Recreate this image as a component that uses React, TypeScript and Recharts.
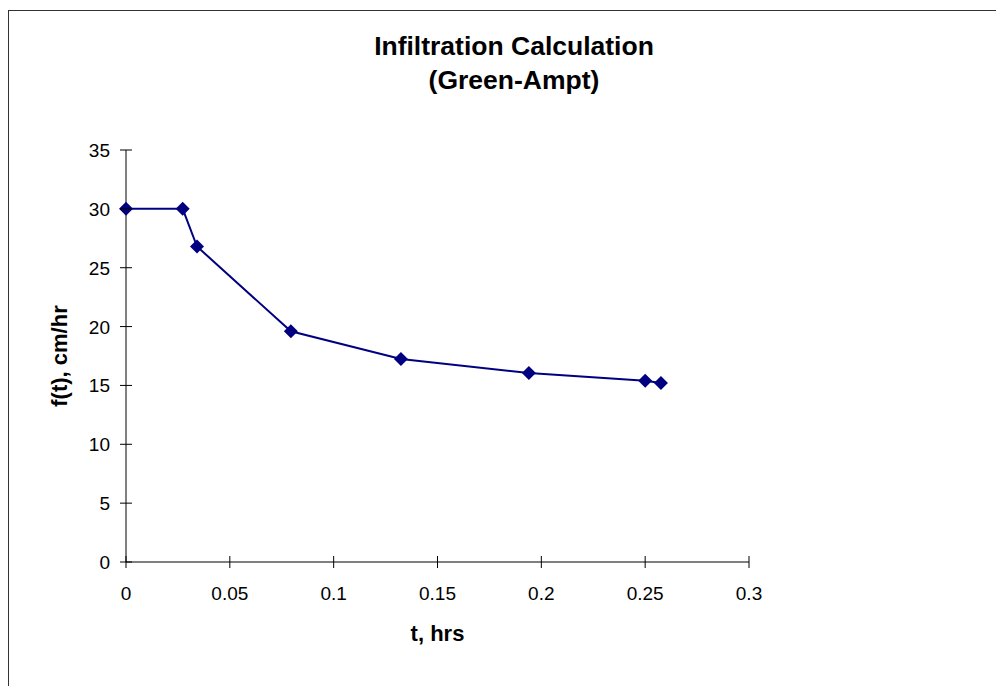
import React from 'react';
import { LineChart, Line, XAxis, YAxis } from 'recharts';

// infiltration capacity f(t) against elapsed time t
const tHrs = [0, 0.0273, 0.0342, 0.0794, 0.1324, 0.194, 0.25, 0.2576];
const ftCmHr = [30, 30, 26.8, 19.6, 17.25, 16.05, 15.4, 15.2];

const xTicks = [0, 0.05, 0.1, 0.15, 0.2, 0.25, 0.3];
const yTicks = [0, 5, 10, 15, 20, 25, 30, 35];

const titleLines = ['Infiltration Calculation', '(Green-Ampt)'];

const data = tHrs.map((t, i) => ({ t, f: ftCmHr[i] }));

const FONT = '"Liberation Sans", Arial, sans-serif';
const NAVY = '#000080';

function XTick(props: any) {
  const { x, y, payload } = props;
  return (
    <g>
      <line x1={x} y1={y - 6} x2={x} y2={y + 6} stroke="#000" />
      <text x={x} y={y + 38} textAnchor="middle" fontSize={19} fontFamily={FONT} fill="#000">
        {payload.value}
      </text>
    </g>
  );
}

function YTick(props: any) {
  const { x, y, payload } = props;
  return (
    <g>
      <line x1={x - 6} y1={y} x2={x + 6} y2={y} stroke="#000" />
      <text x={x - 16} y={y + 7} textAnchor="end" fontSize={19} fontFamily={FONT} fill="#000">
        {payload.value}
      </text>
    </g>
  );
}

function Diamond(props: any) {
  const { cx, cy } = props;
  if (cx == null || cy == null) return null;
  const r = 7;
  return (
    <polygon
      points={`${cx},${cy - r} ${cx + r},${cy} ${cx},${cy + r} ${cx - r},${cy}`}
      fill={NAVY}
    />
  );
}

export default function App() {
  return (
    <div
      style={{
        marginTop: 2,
        width: 996,
        height: 675,
        borderTop: '1px solid #333',
        borderLeft: '1px solid #333',
        position: 'relative',
      }}
    >
      <LineChart
        width={995}
        height={675}
        data={data}
        margin={{ top: 139, right: 255, bottom: 0, left: 0 }}
      >
        <text fontFamily={FONT} fontWeight="bold" fontSize={26.5} fill="#000" textAnchor="middle">
          <tspan x={505} y={44}>{titleLines[0]}</tspan>
          <tspan x={505} y={78}>{titleLines[1]}</tspan>
        </text>
        <XAxis
          dataKey="t"
          type="number"
          domain={[0, 0.3]}
          ticks={xTicks}
          interval={0}
          height={124}
          tickSize={0}
          tickMargin={0}
          tickLine={false}
          tick={<XTick />}
          axisLine={{ stroke: '#000' }}
          label={{
            content: (p: any) => {
              const vb = p.viewBox;
              return (
                <text
                  x={vb.x + vb.width / 2}
                  y={vb.y + 79}
                  textAnchor="middle"
                  fontFamily={FONT}
                  fontWeight="bold"
                  fontSize={22}
                  fill="#000"
                >
                  t, hrs
                </text>
              );
            },
          }}
        />
        <YAxis
          type="number"
          domain={[0, 35]}
          ticks={yTicks}
          interval={0}
          width={117}
          tickSize={0}
          tickMargin={0}
          tickLine={false}
          tick={<YTick />}
          axisLine={{ stroke: '#000' }}
          label={{
            content: (p: any) => {
              const vb = p.viewBox;
              const lx = 58;
              const ly = vb.y + vb.height / 2;
              return (
                <text
                  x={lx}
                  y={ly}
                  transform={`rotate(-90 ${lx} ${ly})`}
                  textAnchor="middle"
                  fontFamily={FONT}
                  fontWeight="bold"
                  fontSize={22}
                  fill="#000"
                >
                  f(t), cm/hr
                </text>
              );
            },
          }}
        />
        <Line
          dataKey="f"
          type="linear"
          stroke={NAVY}
          strokeWidth={2}
          dot={<Diamond />}
          activeDot={false}
          isAnimationActive={false}
        />
      </LineChart>
    </div>
  );
}
